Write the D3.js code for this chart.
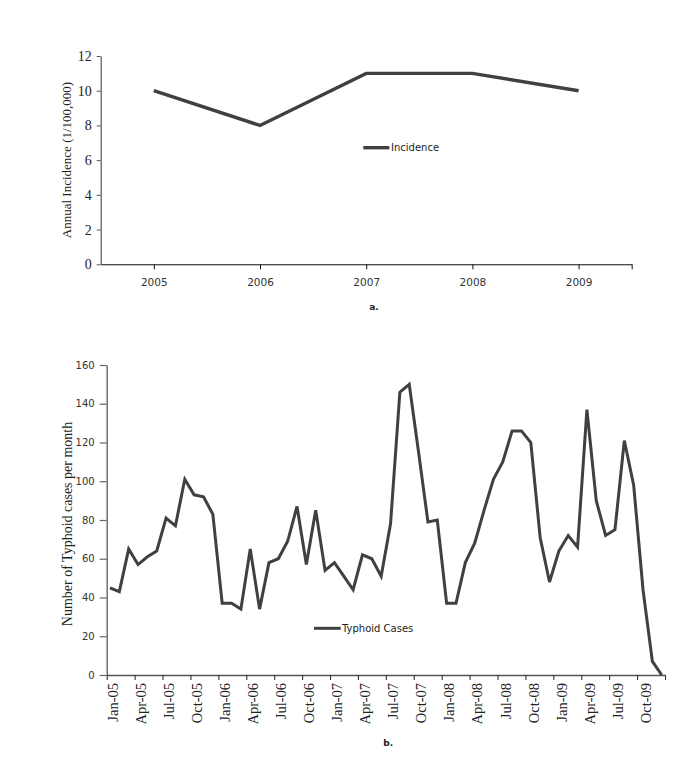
<!DOCTYPE html>
<html>
<head>
<meta charset="utf-8">
<script src="https://cdn.jsdelivr.net/npm/d3@7"></script>
<style>
  html, body { margin: 0; padding: 0; background: #fff; }
  svg { display: block; }
</style>
</head>
<body>
<svg id="chart" width="685" height="778"></svg>
<script>
// ---- Data (chart a) ----
const years = [2005, 2006, 2007, 2008, 2009];
const incidence = [10, 8, 11, 11, 10];
const incidenceTicks = [0, 2, 4, 6, 8, 10, 12];

// ---- Data (chart b) ----
const monthLabels = ["Jan-05","Apr-05","Jul-05","Oct-05","Jan-06","Apr-06","Jul-06","Oct-06",
  "Jan-07","Apr-07","Jul-07","Oct-07","Jan-08","Apr-08","Jul-08","Oct-08",
  "Jan-09","Apr-09","Jul-09","Oct-09"];
const typhoidCases = [
  45, 43, 65, 57, 61, 64, 81, 77, 101, 93, 92, 83,
  37, 37, 34, 65, 34, 58, 60, 69, 87, 57, 85, 54,
  58, 51, 44, 62, 60, 51, 78, 146, 150, 115, 79, 80,
  37, 37, 58, 68, 85, 101, 110, 126, 126, 120, 71, 48,
  64, 72, 66, 137, 90, 72, 75, 121, 98, 44, 7, 0
];
const casesTicks = [0, 20, 40, 60, 80, 100, 120, 140, 160];

const svg = d3.select("#chart");
svg.append("rect").attr("width", 685).attr("height", 778).attr("fill", "#fff");

const lineColor = "#404040";
const serif = "'Liberation Serif', 'Times New Roman', serif";
const sans = "'DejaVu Sans', Verdana, sans-serif";

// ================= Chart a =================
const xA = d3.scaleLinear().domain([2004.5, 2009.5]).range([100.7, 631.7]);
const yA = d3.scaleLinear().domain([0, 12]).range([264.3, 56]);

const gA = svg.append("g");

const yAxisA = gA.append("g")
  .attr("transform", `translate(${xA(2004.5)},0)`)
  .call(d3.axisLeft(yA).tickValues(incidenceTicks).tickSize(4).tickPadding(5).tickSizeOuter(0));
yAxisA.select(".domain").attr("stroke", "#555").attr("stroke-width", 1.2);
yAxisA.selectAll(".tick line").attr("stroke", "#555");
yAxisA.selectAll("text").attr("font-family", serif).attr("font-size", 14).attr("fill", "#222");

const xAxisA = gA.append("g")
  .attr("transform", `translate(0,${yA(0)})`)
  .call(d3.axisBottom(xA).tickValues(years.concat([2009.5]))
    .tickFormat(d => Number.isInteger(d) ? String(d) : "")
    .tickSize(5).tickPadding(9).tickSizeOuter(0));
xAxisA.select(".domain").attr("stroke", "#111").attr("stroke-width", 1.1);
xAxisA.selectAll(".tick line").attr("stroke", "#111");
xAxisA.selectAll("text").attr("font-family", sans).attr("font-size", 10.5).attr("fill", "#333");

gA.append("path")
  .datum(incidence)
  .attr("fill", "none")
  .attr("stroke", lineColor)
  .attr("stroke-width", 3.4)
  .attr("stroke-linejoin", "miter")
  .attr("d", d3.line().x((d, i) => xA(years[i])).y(d => yA(d)));

gA.append("text")
  .attr("transform", `translate(66.7,160) rotate(-90)`)
  .attr("text-anchor", "middle").attr("dy", "0.35em")
  .attr("font-family", serif).attr("font-size", 13).attr("fill", "#222")
  .text("Annual Incidence (1/100,000)");

// legend a
gA.append("line").attr("x1", 363.3).attr("x2", 389.3).attr("y1", 147.7).attr("y2", 147.7)
  .attr("stroke", lineColor).attr("stroke-width", 3.4);
gA.append("text").attr("x", 391).attr("y", 147.7).attr("dy", "0.35em")
  .attr("font-family", sans).attr("font-size", 10).attr("fill", "#222").text("Incidence");

gA.append("text").attr("x", 374).attr("y", 307).attr("dy", "0.35em")
  .attr("text-anchor", "middle")
  .attr("font-family", sans).attr("font-size", 9).attr("font-weight", "bold").attr("fill", "#222").text("a.");

// ================= Chart b =================
const xB = d3.scaleLinear().domain([-0.35, 59.35]).range([106.7, 665]);
const qB = d3.scaleLinear().domain([0, 20]).range([106.7, 665]);
const yB = d3.scaleLinear().domain([0, 160]).range([675, 365]);

const gB = svg.append("g");

const yAxisB = gB.append("g")
  .attr("transform", `translate(${xB(-0.35)},0)`)
  .call(d3.axisLeft(yB).tickValues(casesTicks).tickSize(7).tickPadding(5).tickSizeOuter(0));
yAxisB.select(".domain").attr("stroke", "#666").attr("stroke-width", 1.4);
yAxisB.selectAll(".tick line").attr("stroke", "#666").attr("stroke-width", 1.2);
yAxisB.selectAll("text").attr("font-family", sans).attr("font-size", 10).attr("fill", "#333");

const xAxisB = gB.append("g")
  .attr("transform", `translate(0,${yB(0)})`)
  .call(d3.axisBottom(qB).tickValues(d3.range(0, 21)).tickFormat("").tickSize(5).tickSizeOuter(0));
xAxisB.select(".domain").attr("stroke", "#555").attr("stroke-width", 1.4);
xAxisB.selectAll(".tick line").attr("stroke", "#333").attr("stroke-width", 1.1);

gB.selectAll("text.mlab")
  .data(monthLabels)
  .enter().append("text")
  .attr("class", "mlab")
  .attr("transform", (d, i) => `translate(${xB(i * 3) + 2.7},${yB(0) + 8}) rotate(-90)`)
  .attr("text-anchor", "end").attr("dy", "0.35em")
  .attr("font-family", serif).attr("font-size", 14.5).attr("fill", "#222")
  .text(d => d);

gB.append("path")
  .datum(typhoidCases)
  .attr("fill", "none")
  .attr("stroke", lineColor)
  .attr("stroke-width", 3)
  .attr("stroke-linejoin", "miter")
  .attr("d", d3.line().x((d, i) => xB(i)).y(d => yB(d)));

gB.append("text")
  .attr("transform", `translate(67.3,524) rotate(-90)`)
  .attr("text-anchor", "middle").attr("dy", "0.35em")
  .attr("font-family", serif).attr("font-size", 14).attr("fill", "#222")
  .text("Number of Typhoid cases per month");

// legend b
gB.append("line").attr("x1", 314).attr("x2", 340.7).attr("y1", 628.3).attr("y2", 628.3)
  .attr("stroke", lineColor).attr("stroke-width", 3);
gB.append("text").attr("x", 342).attr("y", 628.3).attr("dy", "0.35em")
  .attr("font-family", sans).attr("font-size", 10).attr("fill", "#222").text("Typhoid Cases");

gB.append("text").attr("x", 388.3).attr("y", 743.3).attr("dy", "0.35em")
  .attr("text-anchor", "middle")
  .attr("font-family", sans).attr("font-size", 9).attr("font-weight", "bold").attr("fill", "#222").text("b.");
</script>
</body>
</html>
